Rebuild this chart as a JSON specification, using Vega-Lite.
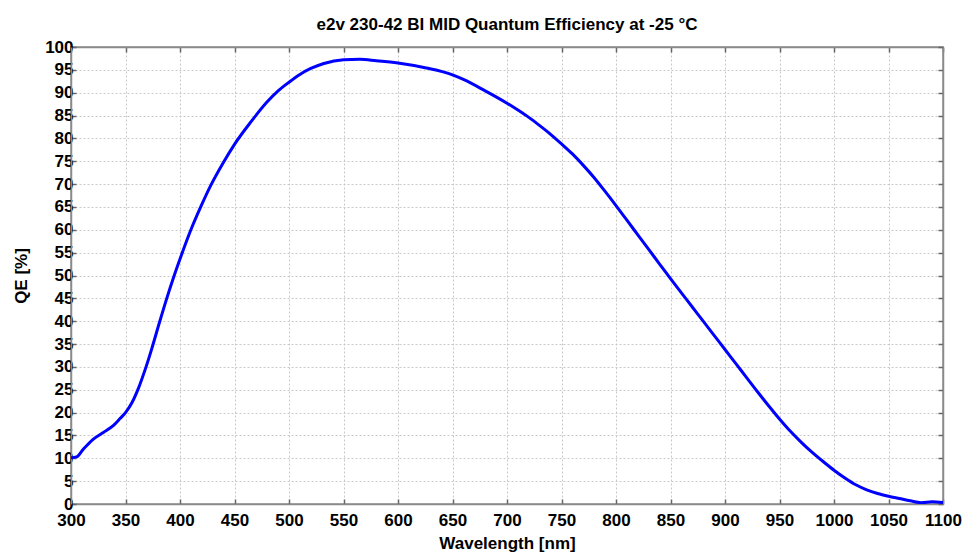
{
  "$schema": "https://vega.github.io/schema/vega-lite/v6.json",
  "width": 872,
  "height": 457,
  "autosize": "none",
  "padding": {"left": 71, "top": 47, "right": 20, "bottom": 50},
  "background": "white",
  "title": {
    "text": "e2v 230-42 BI MID Quantum Efficiency at -25 °C",
    "font": "Liberation Sans",
    "fontSize": 17,
    "fontWeight": "bold",
    "color": "#000000",
    "anchor": "middle",
    "offset": 4
  },
  "config": {
    "view": {"stroke": "#8a8a8a", "strokeWidth": 1.5},
    "axis": {
      "labelFont": "Liberation Sans",
      "labelFontSize": 17,
      "labelFontWeight": "bold",
      "labelColor": "#000000",
      "titleFont": "Liberation Sans",
      "titleFontSize": 17,
      "titleFontWeight": "bold",
      "titleColor": "#000000",
      "domainColor": "#8a8a8a",
      "domainWidth": 1.5,
      "tickColor": "#666666",
      "tickSize": -5,
      "tickWidth": 1.5,
      "gridColor": "#c8c8c8",
      "gridDash": [2, 2],
      "gridWidth": 1
    }
  },
  "data": {
    "values": [
      {"wl": 300, "qe": 10.1},
      {"wl": 305, "qe": 10.3},
      {"wl": 311, "qe": 11.9},
      {"wl": 320, "qe": 14.1},
      {"wl": 330, "qe": 15.7},
      {"wl": 339, "qe": 17.2},
      {"wl": 345, "qe": 18.7},
      {"wl": 350, "qe": 20.0},
      {"wl": 356, "qe": 22.2},
      {"wl": 362, "qe": 25.4},
      {"wl": 368, "qe": 29.4},
      {"wl": 374, "qe": 33.9},
      {"wl": 381, "qe": 39.6},
      {"wl": 388, "qe": 45.1},
      {"wl": 394, "qe": 49.5},
      {"wl": 400, "qe": 53.6},
      {"wl": 410, "qe": 60.0},
      {"wl": 419, "qe": 65.0},
      {"wl": 428, "qe": 69.6},
      {"wl": 439, "qe": 74.4},
      {"wl": 450, "qe": 78.7},
      {"wl": 465, "qe": 83.6},
      {"wl": 480, "qe": 88.0},
      {"wl": 490, "qe": 90.4},
      {"wl": 500, "qe": 92.3},
      {"wl": 510, "qe": 94.0},
      {"wl": 520, "qe": 95.3},
      {"wl": 532, "qe": 96.4},
      {"wl": 550, "qe": 97.2},
      {"wl": 565, "qe": 97.3},
      {"wl": 580, "qe": 97.0},
      {"wl": 600, "qe": 96.5},
      {"wl": 626, "qe": 95.4},
      {"wl": 650, "qe": 93.9},
      {"wl": 660, "qe": 92.9},
      {"wl": 680, "qe": 90.4},
      {"wl": 700, "qe": 87.7},
      {"wl": 710, "qe": 86.2},
      {"wl": 720, "qe": 84.6},
      {"wl": 730, "qe": 82.8},
      {"wl": 740, "qe": 80.9},
      {"wl": 750, "qe": 78.8},
      {"wl": 760, "qe": 76.6},
      {"wl": 770, "qe": 74.1},
      {"wl": 780, "qe": 71.4},
      {"wl": 790, "qe": 68.4},
      {"wl": 800, "qe": 65.3},
      {"wl": 810, "qe": 62.1},
      {"wl": 820, "qe": 58.9},
      {"wl": 830, "qe": 55.7},
      {"wl": 840, "qe": 52.5},
      {"wl": 850, "qe": 49.3},
      {"wl": 860, "qe": 46.2},
      {"wl": 870, "qe": 43.1},
      {"wl": 880, "qe": 40.0},
      {"wl": 890, "qe": 36.9},
      {"wl": 900, "qe": 33.8},
      {"wl": 910, "qe": 30.7},
      {"wl": 920, "qe": 27.6},
      {"wl": 930, "qe": 24.5},
      {"wl": 940, "qe": 21.5},
      {"wl": 950, "qe": 18.6},
      {"wl": 960, "qe": 15.9},
      {"wl": 970, "qe": 13.5},
      {"wl": 980, "qe": 11.3},
      {"wl": 990, "qe": 9.3},
      {"wl": 1000, "qe": 7.4},
      {"wl": 1010, "qe": 5.7},
      {"wl": 1020, "qe": 4.2},
      {"wl": 1030, "qe": 3.1},
      {"wl": 1040, "qe": 2.3},
      {"wl": 1050, "qe": 1.7},
      {"wl": 1060, "qe": 1.2},
      {"wl": 1070, "qe": 0.7},
      {"wl": 1080, "qe": 0.3},
      {"wl": 1090, "qe": 0.5},
      {"wl": 1100, "qe": 0.3}
    ]
  },
  "layer": [
    {
      "mark": {"type": "line", "color": "#0000ff", "strokeWidth": 3, "interpolate": "monotone", "clip": true},
      "encoding": {
        "x": {
          "field": "wl", "type": "quantitative",
          "scale": {"domain": [300, 1100], "nice": false, "zero": false},
          "axis": {"title": "Wavelength [nm]", "format": "d", "values": [300,350,400,450,500,550,600,650,700,750,800,850,900,950,1000,1050,1100], "labelPadding": 13, "titlePadding": 7, "labelFlush": false, "orient": "bottom"}
        },
        "y": {
          "field": "qe", "type": "quantitative",
          "scale": {"domain": [0, 100], "nice": false},
          "axis": {"title": "QE [%]", "format": "d", "values": [0,5,10,15,20,25,30,35,40,45,50,55,60,65,70,75,80,85,90,95,100], "labelPadding": 3, "titlePadding": 14, "labelFlush": false, "orient": "left"}
        }
      }
    },
    {
      "mark": {"type": "line", "opacity": 0},
      "encoding": {
        "x": {
          "field": "wl", "type": "quantitative",
          "scale": {"domain": [300, 1100], "nice": false, "zero": false},
          "axis": {"title": null, "orient": "top", "labels": false, "grid": false, "values": [300,350,400,450,500,550,600,650,700,750,800,850,900,950,1000,1050,1100]}
        },
        "y": {
          "field": "qe", "type": "quantitative",
          "scale": {"domain": [0, 100], "nice": false},
          "axis": {"title": null, "orient": "right", "labels": false, "grid": false, "values": [0,5,10,15,20,25,30,35,40,45,50,55,60,65,70,75,80,85,90,95,100]}
        }
      }
    }
  ],
  "resolve": {"axis": {"x": "independent", "y": "independent"}}
}
